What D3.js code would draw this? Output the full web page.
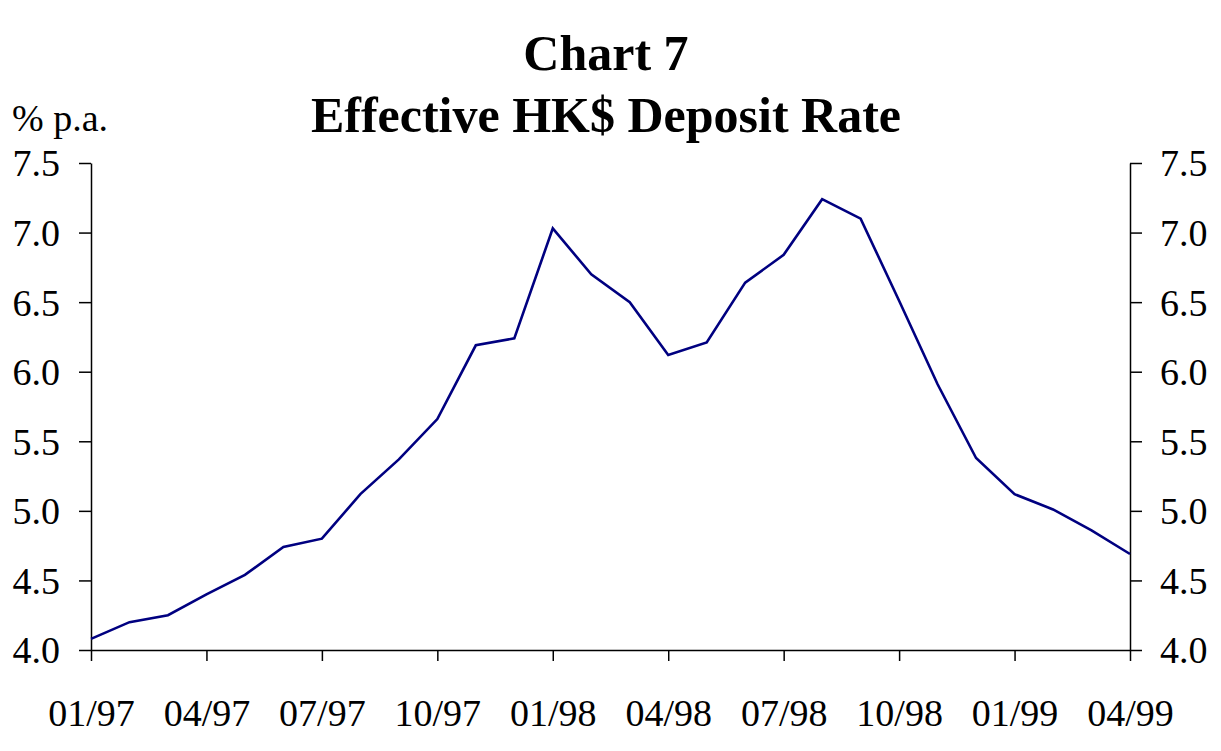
<!DOCTYPE html>
<html>
<head>
<meta charset="utf-8">
<script src="https://cdn.jsdelivr.net/npm/d3@7"></script>
<style>
  body { margin: 0; background: #fff; }
  text { font-family: "Liberation Serif", "Times New Roman", serif; fill: #000; }
</style>
</head>
<body>
<div id="chart"></div>
<script>
// monthly observations, 01/97 .. 04/99
var months = ["01/97","02/97","03/97","04/97","05/97","06/97","07/97","08/97","09/97","10/97","11/97","12/97",
              "01/98","02/98","03/98","04/98","05/98","06/98","07/98","08/98","09/98","10/98","11/98","12/98",
              "01/99","02/99","03/99","04/99"];
var rates = [4.08, 4.20, 4.25, 4.40, 4.54, 4.74, 4.80, 5.12, 5.37, 5.66, 6.19, 6.24,
             7.03, 6.70, 6.50, 6.12, 6.21, 6.64, 6.84, 7.24, 7.10, 6.51, 5.91, 5.38,
             5.12, 5.01, 4.86, 4.69];
var xTicks = ["01/97","04/97","07/97","10/97","01/98","04/98","07/98","10/98","01/99","04/99"];
var yTicks = [4.0, 4.5, 5.0, 5.5, 6.0, 6.5, 7.0, 7.5];

var W = 1221, H = 751;
var plotLeft = 91, plotRight = 1130, plotTop = 163, plotBottom = 650;

var svg = d3.select("#chart")
    .append("svg")
    .attr("width", W)
    .attr("height", H);

var x = d3.scalePoint()
    .domain(months)
    .range([plotLeft, plotRight]);

var y = d3.scaleLinear()
    .domain([4, 7.5])
    .range([plotBottom, plotTop]);

// titles
svg.append("text")
    .attr("x", 606).attr("y", 70)
    .attr("text-anchor", "middle")
    .style("font-size", "50px").style("font-weight", "bold")
    .text("Chart 7");
svg.append("text")
    .attr("x", 606).attr("y", 132)
    .attr("text-anchor", "middle")
    .style("font-size", "50px").style("font-weight", "bold")
    .text("Effective HK$ Deposit Rate");
svg.append("text")
    .attr("x", 12).attr("y", 131)
    .style("font-size", "38px")
    .text("% p.a.");

// axes
var fmt = d3.format(".1f");
var gl = svg.append("g")
    .attr("transform", "translate(" + plotLeft + ",0)")
    .call(d3.axisLeft(y).tickValues(yTicks).tickFormat(fmt).tickSize(12).tickSizeOuter(0).tickPadding(19));
var gr = svg.append("g")
    .attr("transform", "translate(" + plotRight + ",0)")
    .call(d3.axisRight(y).tickValues(yTicks).tickFormat(fmt).tickSize(12).tickSizeOuter(0).tickPadding(18));
var gb = svg.append("g")
    .attr("transform", "translate(0," + plotBottom + ")")
    .call(d3.axisBottom(x).tickValues(xTicks).tickSize(11).tickSizeOuter(0).tickPadding(38));

[gl, gr, gb].forEach(function (g) {
    g.select(".domain").attr("stroke", "#000").attr("stroke-width", 1.5);
    g.selectAll(".tick line").attr("stroke", "#000").attr("stroke-width", 1.5);
    g.selectAll(".tick text")
        .style("font-family", "'Liberation Serif', 'Times New Roman', serif")
        .style("font-size", "38px")
        .attr("fill", "#000");
});
gl.selectAll(".tick text").attr("dy", "0.34em");
gr.selectAll(".tick text").attr("dy", "0.34em");
gb.selectAll(".tick text").attr("dy", "0.71em");

// line
var line = d3.line()
    .x(function (d, i) { return x(months[i]); })
    .y(function (d) { return y(d); });

svg.append("path")
    .datum(rates)
    .attr("d", line)
    .attr("fill", "none")
    .attr("stroke", "#000080")
    .attr("stroke-width", 2.6);
</script>
</body>
</html>
